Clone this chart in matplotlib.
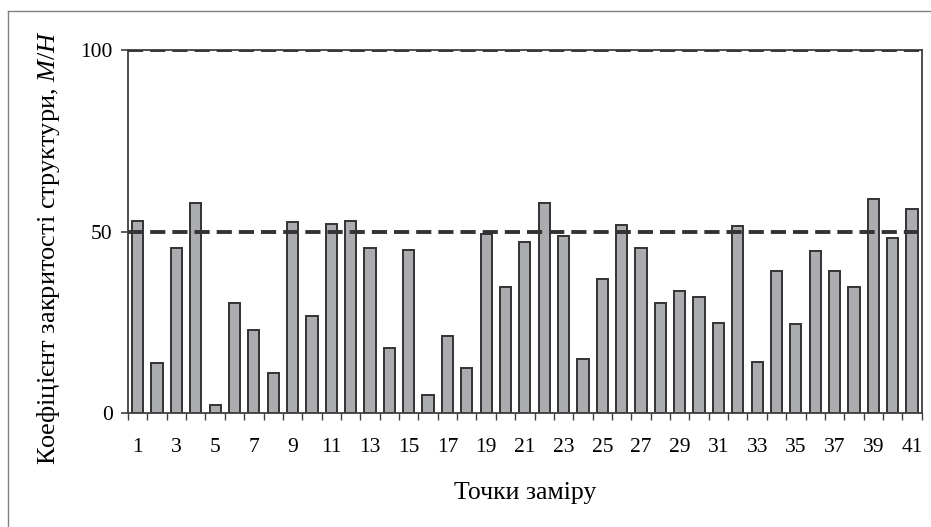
import matplotlib
matplotlib.use('Agg')
import matplotlib.pyplot as plt
import numpy as np
from matplotlib.lines import Line2D

plt.rcParams['font.family'] = ['Liberation Serif', 'DejaVu Serif']
plt.rcParams['mathtext.fontset'] = 'custom'
plt.rcParams['mathtext.rm'] = 'Liberation Serif'
plt.rcParams['mathtext.it'] = 'Liberation Serif:italic'

# Measurement points and closure coefficient values
points = list(range(1, 42))
values = [53.0, 13.7, 45.5, 57.9, 2.1, 30.4, 22.8, 10.9, 52.6, 26.7,
          52.0, 53.0, 45.5, 18.0, 44.9, 4.9, 21.2, 12.5, 49.3, 34.7,
          47.0, 57.9, 48.7, 14.8, 36.9, 51.9, 45.5, 30.4, 33.6, 32.0,
          24.9, 51.4, 14.1, 39.0, 24.4, 44.5, 39.0, 34.7, 58.9, 48.2,
          56.3]
ref_levels = [50, 100]
y_ticks = [0, 50, 100]
x_ticklabels = [str(p) for p in points if p % 2 == 1]

fig = plt.figure(figsize=(9.31, 5.27), dpi=100)
ax = fig.add_axes([0.1375, 0.2163, 0.8525, 0.6887])

# thin frame around the figure (top and left visible in reference)
fig.add_artist(Line2D([8 / 931, 8 / 931], [0, 1 - 11 / 527], color='#808080', lw=1.0))
fig.add_artist(Line2D([8 / 931, 1], [1 - 11 / 527, 1 - 11 / 527], color='#808080', lw=1.0))

ax.bar(points, values, width=0.58, color='#abacb0', edgecolor='#333333',
       linewidth=1.4, zorder=2)

for lvl in ref_levels:
    ax.axhline(lvl, color='#333333', lw=2.8, ls=(0, (3.9, 1.8)), zorder=3)

ax.set_xlim(0.5, 41.5)
ax.set_ylim(0, 100)

ax.set_xticks([p for p in points if p % 2 == 1])
ax.set_xticklabels(x_ticklabels)
ax.set_xticks(np.arange(0.5, 42, 1), minor=True)
ax.tick_params(axis='x', which='major', length=0, labelsize=15.5, pad=18)
ax.tick_params(axis='x', which='minor', length=5, width=1, color='#404040')
ax.set_yticks(y_ticks)
ax.tick_params(axis='y', length=5, width=1.2, color='#404040', labelsize=15.5, pad=6)

for s in ax.spines.values():
    s.set_color('#404040')
    s.set_linewidth(1.3)

ax.set_xlabel('Точки заміру', fontsize=18.5, labelpad=18)
ax.set_ylabel('Коефіцієнт закритості структури, $\\mathit{М/Н}$', fontsize=19)
ax.yaxis.set_label_coords(-0.083, 0.455)

fig.savefig('out.png', dpi=100)
